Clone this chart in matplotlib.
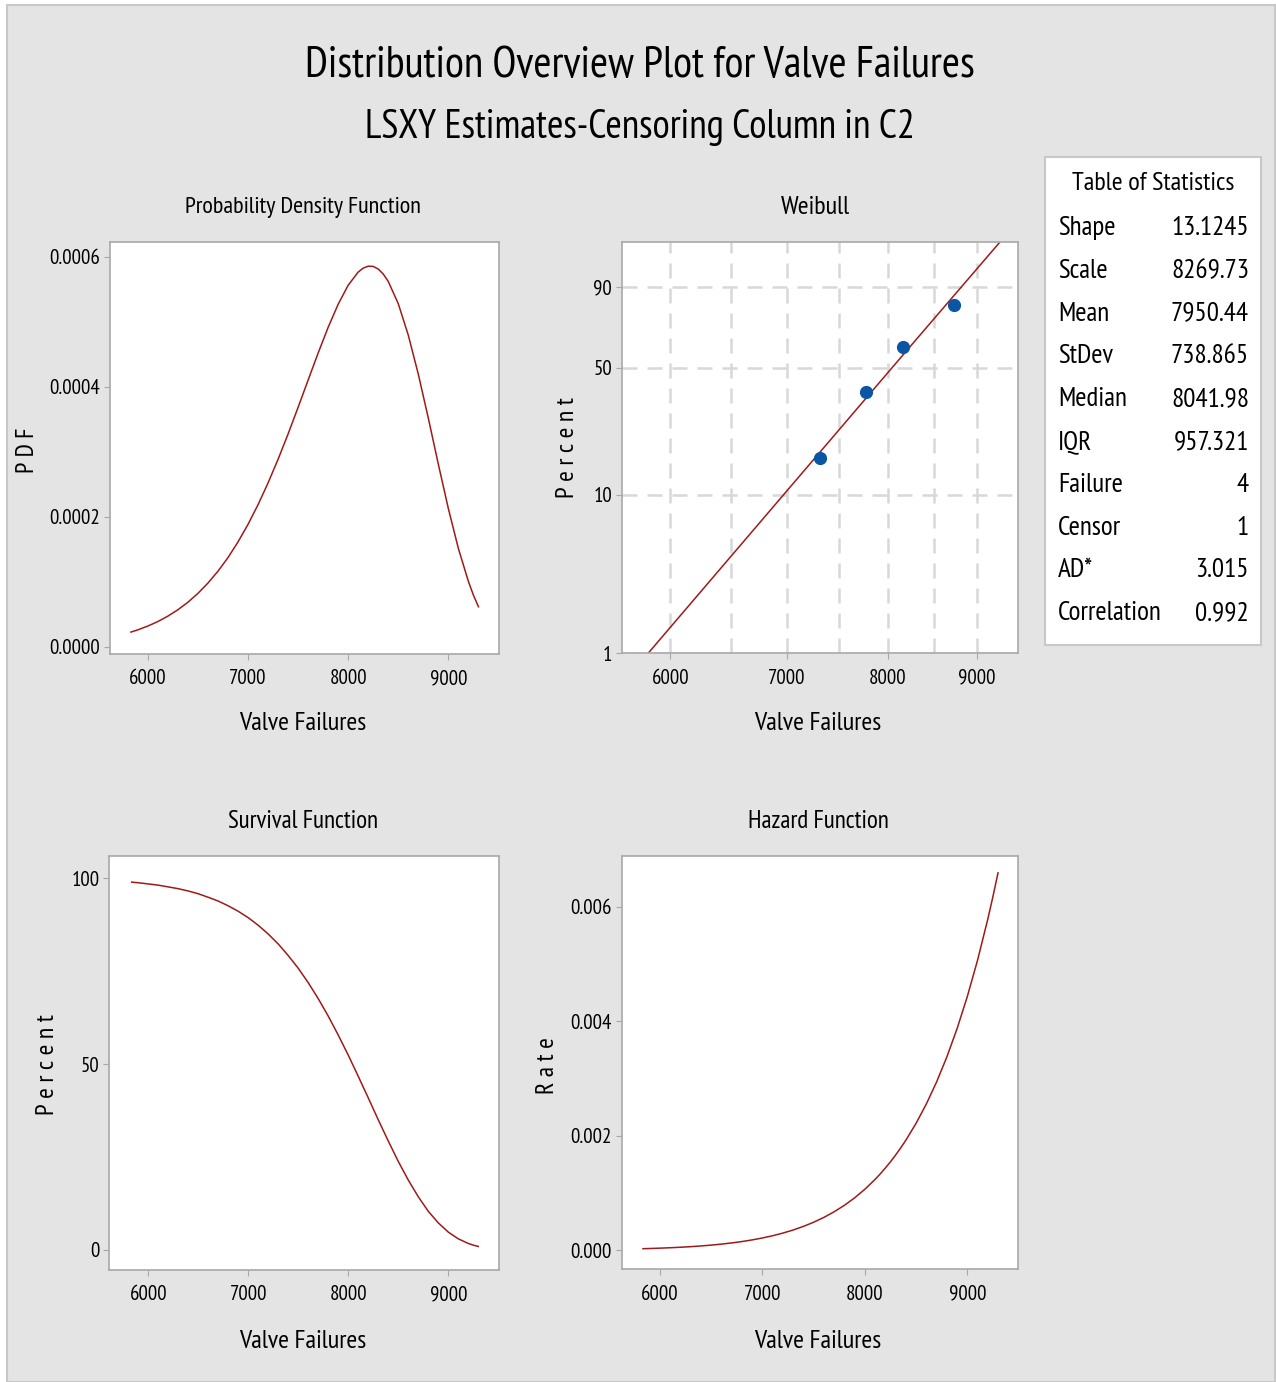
import matplotlib
matplotlib.use("Agg")
import matplotlib.pyplot as plt
from matplotlib.patches import Rectangle
from matplotlib.ticker import FixedLocator, NullLocator, FixedFormatter, FormatStrFormatter
import numpy as np

plt.rcParams['font.family'] = ['PT Sans Narrow', 'Liberation Sans', 'DejaVu Sans']

# values
xv = [5834, 5900, 6000, 6100, 6200, 6300, 6400, 6500, 6600, 6700, 6800, 6900, 7000, 7100,
      7200, 7300, 7400, 7500, 7600, 7700, 7800, 7900, 8000, 8100, 8150, 8200, 8250, 8300,
      8350, 8400, 8500, 8600, 8700, 8800, 8900, 9000, 9100, 9200, 9250, 9300]
pdf_vals = [2.29e-5, 2.62e-5, 3.20e-5, 3.89e-5, 4.72e-5, 5.70e-5, 6.85e-5, 8.21e-5, 9.79e-5,
            1.161e-4, 1.370e-4, 1.610e-4, 1.880e-4, 2.182e-4, 2.516e-4, 2.880e-4, 3.269e-4,
            3.679e-4, 4.098e-4, 4.514e-4, 4.910e-4, 5.266e-4, 5.559e-4, 5.762e-4, 5.823e-4,
            5.853e-4, 5.850e-4, 5.810e-4, 5.734e-4, 5.620e-4, 5.278e-4, 4.794e-4, 4.194e-4,
            3.517e-4, 2.809e-4, 2.126e-4, 1.513e-4, 1.006e-4, 7.96e-5, 6.18e-5]
surv_vals = [98.98, 98.82, 98.5, 98.17, 97.7, 97.22, 96.6, 95.85, 94.9, 93.88, 92.6, 91.13,
             89.4, 87.36, 85.0, 82.32, 79.2, 75.78, 71.9, 67.6, 62.9, 57.8, 52.4, 46.7, 43.79,
             40.9, 37.94, 35.0, 32.14, 29.3, 23.8, 18.8, 14.3, 10.4, 7.27, 4.8, 2.99, 1.74,
             1.29, 0.94]
haz_vals = [2.31e-5, 2.65e-5, 3.25e-5, 3.97e-5, 4.83e-5, 5.86e-5, 7.09e-5, 8.57e-5, 1.031e-4,
            1.237e-4, 1.479e-4, 1.767e-4, 2.103e-4, 2.498e-4, 2.959e-4, 3.498e-4, 4.126e-4,
            4.855e-4, 5.701e-4, 6.680e-4, 7.811e-4, 9.116e-4, 1.0618e-3, 1.2343e-3, 1.3299e-3,
            1.4323e-3, 1.5418e-3, 1.6590e-3, 1.7843e-3, 1.9182e-3, 2.2142e-3, 2.5515e-3,
            2.9356e-3, 3.3715e-3, 3.8669e-3, 4.428e-3, 5.0627e-3, 5.780e-3, 6.173e-3, 6.590e-3]

# probability plot
fail_times = [7311, 7771, 8166, 8735]
fail_pct = [16.7, 38.6, 60.9, 83.0]
fit_x = [5826, 8269.73, 9281]
fit_pct = [1.0, 63.2, 98.9]

stat_names = ["Shape", "Scale", "Mean", "StDev", "Median", "IQR", "Failure", "Censor", "AD*", "Correlation"]
stat_values = ["13.1245", "8269.73", "7950.44", "738.865", "8041.98", "957.321", "4", "1", "3.015", "0.992"]

W, H = 1276, 1382
line_col = '#9e1a1a'
spine_col = '#a8a8a8'


def fx(x):
    return x / W


def fy(y):
    return 1 - y / H


def box(l, t, r, b):
    return [fx(l), fy(b), (r - l) / W, (b - t) / H]


fig = plt.figure(figsize=(W / 100, H / 100), dpi=100, facecolor='white')
fig.patches.append(Rectangle((fx(7), 0), fx(1275) - fx(7), fy(5), transform=fig.transFigure,
                             facecolor='#e4e4e4', edgecolor='#c8c8c8', lw=1.5, zorder=-10))


def style(ax):
    ax.set_facecolor('white')
    for s in ax.spines.values():
        s.set_color(spine_col)
        s.set_linewidth(1.2)
    ax.tick_params(direction='out', length=4, color=spine_col, labelsize=15, pad=3)
    ax.tick_params(axis='x', pad=7)


# PDF
ax1 = fig.add_axes(box(109.5, 242, 499, 654))
style(ax1)
ax1.plot(xv, pdf_vals, color=line_col, lw=1.1)
ax1.set_xlim(5620, 9505)
ax1.set_ylim(-1.08e-5, 6.225e-4)
ax1.set_xticks([6000, 7000, 8000, 9000])
ax1.set_yticks([0, 0.0002, 0.0004, 0.0006])
ax1.yaxis.set_major_formatter(FormatStrFormatter('%.4f'))

# Weibull probability plot
ax2 = fig.add_axes(box(621.7, 241.7, 1017.7, 653.3))
style(ax2)
ax2.set_xscale('log')


def fwd(p):
    p = np.clip(np.asarray(p, dtype=float), 1e-6, 100 - 1e-6)
    return np.log(-np.log(1 - p / 100))


def inv(y):
    return 100 * (1 - np.exp(-np.exp(np.asarray(y, dtype=float))))


ax2.set_yscale('function', functions=(fwd, inv))
ax2.set_xlim(5626, 9498)
ax2.set_ylim(1, 98.9)
for gx in [6000, 6500, 7000, 7500, 8000, 8500, 9000]:
    ax2.axvline(gx, color='#d8d8d8', lw=1.8, dashes=(6, 4), zorder=0)
for gy in [10, 50, 90]:
    ax2.axhline(gy, color='#d8d8d8', lw=1.8, dashes=(6, 4), zorder=0)
ax2.plot(fit_x, fit_pct, color=line_col, lw=1.1, zorder=2)
ax2.plot(fail_times, fail_pct, 'o', color='#0b56a4', ms=8.5, zorder=3)
ax2.xaxis.set_major_locator(FixedLocator([6000, 7000, 8000, 9000]))
ax2.xaxis.set_major_formatter(FixedFormatter(['6000', '7000', '8000', '9000']))
ax2.xaxis.set_minor_locator(NullLocator())
ax2.yaxis.set_major_locator(FixedLocator([1, 10, 50, 90]))
ax2.yaxis.set_major_formatter(FixedFormatter(['1', '10', '50', '90']))
ax2.yaxis.set_minor_locator(NullLocator())

# Survival
ax3 = fig.add_axes(box(109.3, 855.7, 499, 1270))
style(ax3)
ax3.plot(xv, surv_vals, color=line_col, lw=1.1)
ax3.set_xlim(5610, 9507)
ax3.set_ylim(-5.4, 106.1)
ax3.set_xticks([6000, 7000, 8000, 9000])
ax3.set_yticks([0, 50, 100])

# Hazard
ax4 = fig.add_axes(box(621.7, 855.7, 1018.3, 1269.3))
style(ax4)
ax4.plot(xv, haz_vals, color=line_col, lw=1.1)
ax4.set_xlim(5626, 9498)
ax4.set_ylim(-0.000337, 0.00689)
ax4.set_xticks([6000, 7000, 8000, 9000])
ax4.set_yticks([0, 0.002, 0.004, 0.006])
ax4.yaxis.set_major_formatter(FormatStrFormatter('%.3f'))

# titles and labels
fig.text(fx(640), fy(66), "Distribution Overview Plot for Valve Failures", ha='center', va='center', fontsize=31.5)
fig.text(fx(640), fy(128), "LSXY Estimates-Censoring Column in C2", ha='center', va='center', fontsize=28.5)
fig.text(fx(303), fy(208), "Probability Density Function", ha='center', va='center', fontsize=17.5)
fig.text(fx(815), fy(208), "Weibull", ha='center', va='center', fontsize=19)
fig.text(fx(303), fy(822), "Survival Function", ha='center', va='center', fontsize=18)
fig.text(fx(818), fy(822), "Hazard Function", ha='center', va='center', fontsize=18)
for cx, cy in [(303, 724), (818, 724), (303, 1341), (818, 1341)]:
    fig.text(fx(cx), fy(cy), "Valve Failures", ha='center', va='center', fontsize=19)
fig.text(fx(27), fy(450), "P D F", rotation=90, ha='center', va='center', fontsize=18)
fig.text(fx(568), fy(448), "P e r c e n t", rotation=90, ha='center', va='center', fontsize=18.5)
fig.text(fx(48), fy(1065), "P e r c e n t", rotation=90, ha='center', va='center', fontsize=18.5)
fig.text(fx(547), fy(1066), "R a t e", rotation=90, ha='center', va='center', fontsize=18.5)

# table of statistics
fig.patches.append(Rectangle((fx(1045), fy(645)), (1261 - 1045) / W, (645 - 157) / H,
                             transform=fig.transFigure, facecolor='white', edgecolor='#c8c8c8', lw=1.5))
fig.text(fx(1153), fy(184), "Table of Statistics", ha='center', va='center', fontsize=19)
for i, (nm, val) in enumerate(zip(stat_names, stat_values)):
    yy = 228 + i * 42.8
    fig.text(fx(1058), fy(yy), nm, ha='left', va='center', fontsize=19.5)
    fig.text(fx(1249), fy(yy), val, ha='right', va='center', fontsize=19.5)

fig.savefig("out.png", dpi=100, facecolor=fig.get_facecolor())
